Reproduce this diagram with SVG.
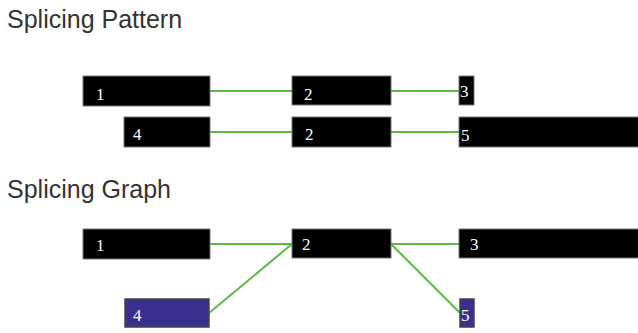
<svg xmlns="http://www.w3.org/2000/svg" width="638" height="333" viewBox="0 0 638 333">
<style>
.title{font-family:"Liberation Sans",Arial,sans-serif;font-size:25px;fill:#333}
.box{fill:#000;stroke:#777;stroke-width:1}
.blue{fill:#3a318f;stroke:#444;stroke-width:1.5}
.lbl{font-family:"Liberation Serif","Times New Roman",serif;font-size:17px;fill:#fff}
.edge{stroke:#5cb946;stroke-width:2;fill:none}
</style>
<rect width="638" height="333" fill="#fff"/>
<text class="title" x="7" y="28">Splicing Pattern</text>
<text class="title" x="7" y="198">Splicing Graph</text>
<g id="connectors">
<line class="edge" x1="208" y1="91" x2="293" y2="91"/>
<line class="edge" x1="390" y1="91" x2="460" y2="91"/>
<line class="edge" x1="208" y1="132" x2="293" y2="132"/>
<line class="edge" x1="390" y1="132" x2="460" y2="132"/>
<line class="edge" x1="208" y1="244" x2="293" y2="244"/>
<line class="edge" x1="390" y1="244" x2="460" y2="244"/>
<line class="edge" x1="209" y1="313" x2="292" y2="244"/>
<line class="edge" x1="391" y1="244" x2="460" y2="313"/>
</g>
<g id="p1"><rect class="box" x="83" y="76" width="127" height="30"/><text class="lbl" x="96" y="100">1</text></g>
<g id="p2a"><rect class="box" x="292" y="76" width="99" height="29"/><text class="lbl" x="304" y="100">2</text></g>
<g id="p3"><rect class="box" x="459" y="76" width="15" height="29"/><text class="lbl" x="460" y="97">3</text></g>
<g id="p4"><rect class="box" x="124" y="117" width="86" height="30"/><text class="lbl" x="133" y="140">4</text></g>
<g id="p2b"><rect class="box" x="292" y="117" width="99" height="30"/><text class="lbl" x="305" y="140">2</text></g>
<g id="p5"><rect class="box" x="459" y="117" width="180" height="30"/><text class="lbl" x="461" y="141">5</text></g>
<g id="g1"><rect class="box" x="83" y="229" width="127" height="30"/><text class="lbl" x="96" y="251">1</text></g>
<g id="g2"><rect class="box" x="292" y="229" width="99" height="29"/><text class="lbl" x="302" y="250">2</text></g>
<g id="g3"><rect class="box" x="459" y="229" width="180" height="29"/><text class="lbl" x="470" y="250">3</text></g>
<g id="g4"><rect class="blue" x="125" y="299" width="84" height="28"/><text class="lbl" x="133" y="321">4</text></g>
<g id="g5"><rect class="blue" x="460" y="299" width="14" height="28"/><text class="lbl" x="461" y="321">5</text></g>
</svg>
